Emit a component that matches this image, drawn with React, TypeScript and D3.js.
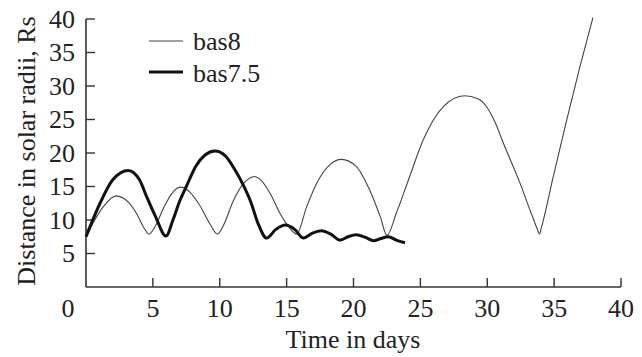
import React from "react";
import * as d3 from "d3";

const xTicks = [0, 5, 10, 15, 20, 25, 30, 35, 40];
const yTicks = [5, 10, 15, 20, 25, 30, 35, 40];

const bas8: [number, number][] = [
  [0, 7.5], [0.6, 9.8], [1.3, 12.0], [2.24, 13.6], [3.2, 12.6], [3.8, 10.9], [4.28, 9.0], [4.71, 7.9],
  [5.16, 9.0], [5.8, 11.8], [6.4, 13.9], [7.03, 14.9], [7.8, 14.1], [8.5, 12.2], [9.3, 9.3], [9.82, 7.9],
  [10.3, 9.3], [11.0, 12.8], [11.8, 15.5], [12.6, 16.5], [13.0, 16.1], [13.76, 14.0], [14.5, 11.0],
  [15.25, 8.75], [15.75, 7.9], [16.5, 12.0], [17.25, 15.5], [18.2, 18.2], [19.1, 19.05], [20.2, 18.0],
  [21.2, 14.5], [22.0, 10.5], [22.5, 7.7], [23.2, 11.0], [24.2, 16.5], [25.2, 21.9], [26.7, 26.9],
  [28.3, 28.55], [29.3, 28.1], [29.95, 26.9], [30.6, 24.5], [31.2, 21.5], [32.45, 15.5], [33.4, 10.4],
  [33.75, 8.6], [33.9, 7.9], [34.05, 8.9], [34.94, 16.5], [35.94, 24.9], [36.93, 32.9], [37.9, 40.2],
];

const bas75: [number, number][] = [
  [0, 7.5], [1.05, 12.5], [2.0, 16.0], [3.16, 17.4], [4.0, 16.0], [4.53, 13.5], [5.2, 10.5], [5.98, 7.6],
  [6.5, 10.0], [7.0, 12.8], [7.5, 15.0], [8.2, 18.0], [8.9, 19.7], [9.64, 20.3], [10.4, 19.6], [11.1, 17.6],
  [11.76, 15.2], [12.3, 12.8], [12.9, 9.3], [13.5, 7.3], [14.2, 8.6], [14.9, 9.25], [15.6, 8.6], [16.25, 7.3],
  [16.9, 8.0], [17.6, 8.4], [18.3, 7.9], [19.0, 7.0], [19.6, 7.5], [20.2, 7.8], [20.9, 7.4], [21.5, 6.9],
  [22.0, 7.2], [22.6, 7.5], [23.2, 7.0], [23.85, 6.6],
];

const seriesNames = ["bas8", "bas7.5"];

export default function App() {
  const W = 642, H = 357;
  const x = d3.scaleLinear().domain([0, 40]).range([86, 621]);
  const y = d3.scaleLinear().domain([0, 40]).range([287, 19]);
  const line = d3
    .line<[number, number]>()
    .x((d) => x(d[0]))
    .y((d) => y(d[1]))
    .curve(d3.curveMonotoneX);
  const ts: React.CSSProperties = {
    fontFamily: '"Liberation Serif", "Times New Roman", Times, "DejaVu Serif", serif',
    fontSize: 26,
  };
  const axisColor = "#333";
  return (
    <svg
      width={W}
      height={H}
      style={{ position: "absolute", left: 0, top: 0, background: "#fff" }}
    >
      <rect x={0} y={0} width={W} height={H} fill="#fff" />
      <line x1={x(0)} x2={x(0)} y1={y(40)} y2={y(0)} stroke={axisColor} strokeWidth={1.6} />
      <line x1={x(0)} x2={x(40)} y1={y(0)} y2={y(0)} stroke={axisColor} strokeWidth={1.6} />
      {yTicks.map((t) => (
        <g key={"y" + t}>
          <line x1={x(0)} x2={x(0) + 9} y1={y(t)} y2={y(t)} stroke={axisColor} strokeWidth={1.4} />
          <text x={75} y={y(t) + 8.6} textAnchor="end" style={ts} fill="#222">
            {t}
          </text>
        </g>
      ))}
      {xTicks.map((t) => (
        <g key={"x" + t}>
          {t > 0 && (
            <line x1={x(t)} x2={x(t)} y1={y(0)} y2={y(0) - 9} stroke={axisColor} strokeWidth={1.4} />
          )}
          <text x={t === 0 ? 68 : x(t)} y={317} textAnchor="middle" style={ts} fill="#222">
            {t}
          </text>
        </g>
      ))}
      <text x={353} y={348} textAnchor="middle" style={ts} fill="#222">
        Time in days
      </text>
      <text
        transform={`translate(35, 151) rotate(-90)`}
        textAnchor="middle"
        style={ts}
        fill="#222"
      >
        Distance in solar radii, Rs
      </text>
      <path d={line(bas8) || ""} fill="none" stroke="#444" strokeWidth={1.1} />
      <path d={line(bas75) || ""} fill="none" stroke="#111" strokeWidth={3} strokeLinejoin="round" />
      <line x1={149} x2={183} y1={41} y2={41} stroke="#444" strokeWidth={1.1} />
      <text x={193} y={50} style={ts} fill="#222">{seriesNames[0]}</text>
      <line x1={149} x2={183} y1={72} y2={72} stroke="#111" strokeWidth={3} />
      <text x={193} y={81.5} style={ts} fill="#222">{seriesNames[1]}</text>
    </svg>
  );
}
